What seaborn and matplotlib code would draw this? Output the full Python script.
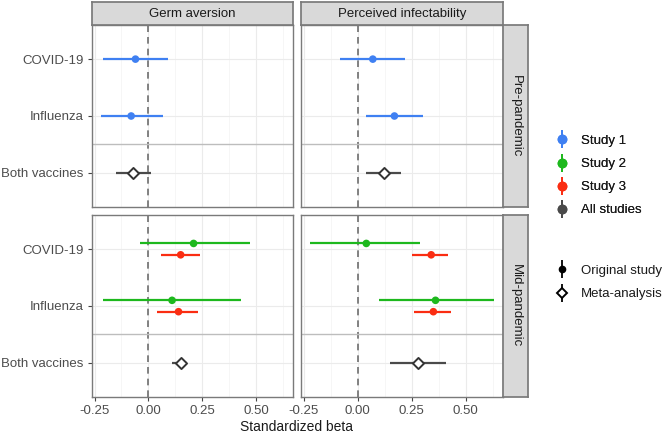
import seaborn as sns
import matplotlib.pyplot as plt
import matplotlib.ticker as mticker
from matplotlib.lines import Line2D
import pandas as pd

# values (standardized beta with 95% CI)
outcome = ["Germ aversion"] * 3 + ["Perceived infectability"] * 3 \
    + ["Germ aversion"] * 5 + ["Perceived infectability"] * 5
period = ["Pre-pandemic"] * 6 + ["Mid-pandemic"] * 10
vaccine = ["COVID-19", "Influenza", "Both vaccines"] * 2 \
    + ["COVID-19", "COVID-19", "Influenza", "Influenza", "Both vaccines"] * 2
study = ["Study 1", "Study 1", "All studies"] * 2 \
    + ["Study 2", "Study 3", "Study 2", "Study 3", "All studies"] * 2
beta = [-0.06, -0.08, -0.07, 0.07, 0.17, 0.12,
        0.21, 0.15, 0.11, 0.14, 0.15,
        0.04, 0.34, 0.36, 0.35, 0.28]
lower = [-0.21, -0.22, -0.15, -0.08, 0.04, 0.04,
         -0.04, 0.06, -0.21, 0.04, 0.11,
         -0.22, 0.25, 0.10, 0.26, 0.15]
upper = [0.09, 0.07, 0.01, 0.22, 0.30, 0.20,
         0.47, 0.24, 0.43, 0.23, 0.18,
         0.29, 0.42, 0.63, 0.43, 0.41]

outcomes = ["Germ aversion", "Perceived infectability"]
periods = ["Pre-pandemic", "Mid-pandemic"]
vaccines = ["COVID-19", "Influenza", "Both vaccines"]
studies = ["Study 1", "Study 2", "Study 3", "All studies"]
colors = {"Study 1": "#3F80F2", "Study 2": "#1DB81D",
          "Study 3": "#FA2D12", "All studies": "#4A4A4A"}
dodge = {"Study 1": 0.0, "Study 2": -0.1, "Study 3": 0.1, "All studies": 0.0}

df = pd.DataFrame({"outcome": outcome, "period": period, "vaccine": vaccine,
                   "study": study, "beta": beta, "lower": lower, "upper": upper})
df["y"] = df["vaccine"].map(vaccines.index) + df["study"].map(dodge)
df["type"] = ["Meta-analysis" if s == "All studies" else "Original study" for s in df["study"]]

sns.set_theme(style="whitegrid")
plt.rcParams["font.family"] = ["Liberation Sans", "DejaVu Sans"]

W, H = 664, 434
fig = plt.figure(figsize=(W / 100, H / 100), dpi=100)

def fx(px):
    return px / W

def fy(px):
    return 1 - px / H

col_x = [(92, 293), (301, 503)]
row_y = [(25, 207), (215, 397)]
border = "#7A7A7A"
tick_col = "#4D4D4D"

for i, per in enumerate(periods):
    for j, out in enumerate(outcomes):
        x0, x1 = col_x[j]
        y0, y1 = row_y[i]
        ax = fig.add_axes([fx(x0), fy(y1), fx(x1 - x0), (y1 - y0) / H])
        sub = df[(df["period"] == per) & (df["outcome"] == out)]
        ax.axvline(0, color="#6E6E6E", ls=(0, (4, 3)), lw=1.2, zorder=1)
        ax.axhline(1.5, color="#BDBDBD", lw=1.0, zorder=1)
        ax.hlines(sub["y"], sub["lower"], sub["upper"],
                  colors=[colors[s] for s in sub["study"]], lw=1.6, zorder=2)
        orig = sub[sub["type"] == "Original study"]
        meta = sub[sub["type"] == "Meta-analysis"]
        sns.scatterplot(data=orig, x="beta", y="y", hue="study", palette=colors,
                        s=30, edgecolor="none", legend=False, ax=ax, zorder=3)
        sns.scatterplot(data=meta, x="beta", y="y", marker="D", s=32,
                        color="white", edgecolor="#333333", linewidth=1.4,
                        legend=False, ax=ax, zorder=3)
        ax.set_xlim(-0.262, 0.672)
        ax.set_ylim(2.6, -0.6)
        ax.xaxis.set_major_locator(mticker.FixedLocator([-0.25, 0, 0.25, 0.5]))
        ax.xaxis.set_minor_locator(mticker.FixedLocator([-0.125, 0.125, 0.375, 0.625]))
        ax.set_yticks(range(len(vaccines)))
        ax.grid(which="major", color="#EBEBEB", lw=0.8)
        ax.grid(which="minor", axis="x", color="#F3F3F3", lw=0.5)
        ax.set_axisbelow(True)
        ax.set_xlabel("")
        ax.set_ylabel("")
        for sp in ax.spines.values():
            sp.set_color(border)
            sp.set_linewidth(1.0)
        ax.tick_params(which="minor", length=0)
        ax.tick_params(which="major", length=3, width=0.8, color="#444444",
                       labelsize=9.5, labelcolor=tick_col, pad=3)
        if i == 1:
            ax.set_xticklabels(["-0.25", "0.00", "0.25", "0.50"])
            ax.tick_params(axis="x", bottom=True)
        else:
            ax.tick_params(axis="x", bottom=False, labelbottom=False)
        if j == 0:
            ax.set_yticklabels(vaccines)
            ax.tick_params(axis="y", left=True)
        else:
            ax.tick_params(axis="y", left=False, labelleft=False)

# strips
for j, out in enumerate(outcomes):
    x0, x1 = col_x[j]
    sax = fig.add_axes([fx(x0), fy(25), fx(x1 - x0), 23 / H])
    sax.set_facecolor("#D9D9D9")
    sax.set_xticks([])
    sax.set_yticks([])
    for sp in sax.spines.values():
        sp.set_color(border)
    sax.text(0.5, 0.48, out, ha="center", va="center", fontsize=9.5, color="#1A1A1A")
for i, per in enumerate(periods):
    y0, y1 = row_y[i]
    sax = fig.add_axes([fx(503), fy(y1), fx(25), (y1 - y0) / H])
    sax.set_facecolor("#D9D9D9")
    sax.set_xticks([])
    sax.set_yticks([])
    for sp in sax.spines.values():
        sp.set_color(border)
    sax.text(0.5, 0.5, per, ha="center", va="center", rotation=-90,
             fontsize=9.5, color="#1A1A1A")

fig.text(fx(297), fy(427), "Standardized beta", ha="center", va="center",
         fontsize=10, color="#1A1A1A")

# legends
leg_kw = dict(loc="upper left", frameon=False, fontsize=9.5, handlelength=1.2,
              handletextpad=0.84, labelspacing=0.82, labelcolor="#1A1A1A")
h1 = [(Line2D([], [], marker="|", markersize=13, mew=1.3, color=colors[s], ls=""),
       Line2D([], [], marker="o", markersize=6, color=colors[s], ls=""))
      for s in studies]
leg1 = fig.legend(h1, studies, bbox_to_anchor=(fx(542), fy(123)), **leg_kw)
h2 = [(Line2D([], [], marker="|", markersize=13, mew=1.3, color="black", ls=""),
       Line2D([], [], marker="o", markersize=4.5, color="black", ls="")),
      (Line2D([], [], marker="|", markersize=13, mew=1.3, color="black", ls=""),
       Line2D([], [], marker="D", markersize=5.5, mfc="white", mec="black", mew=1.4, ls=""))]
fig.legend(h2, ["Original study", "Meta-analysis"],
           bbox_to_anchor=(fx(542), fy(253)), **leg_kw)
fig.add_artist(leg1)

fig.savefig("out.png", dpi=100)
